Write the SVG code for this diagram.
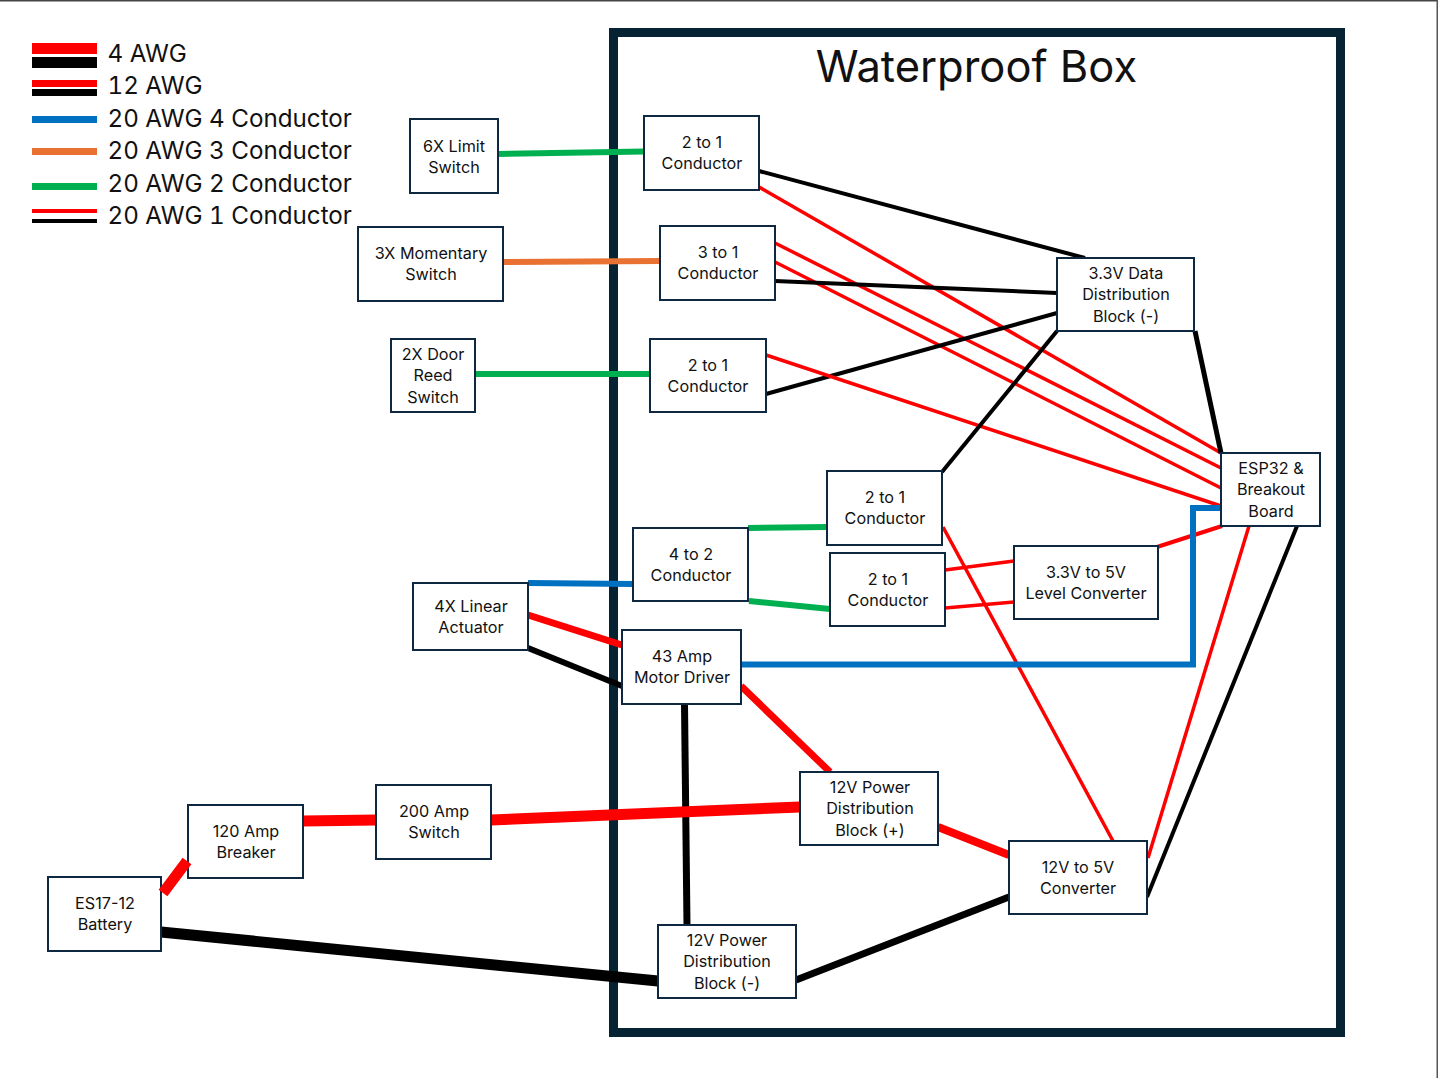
<svg xmlns="http://www.w3.org/2000/svg" width="1438" height="1078" viewBox="0 0 1438 1078">
<style>
text{font-family:"Inter","Liberation Sans",sans-serif;fill:#111}
.n rect{fill:#fff;stroke:#0e2841;stroke-width:2}
.n text{font-size:16.2px;text-anchor:middle}
.leg{font-size:24.2px;font-variant-numeric:tabular-nums}
.c line,.c polyline{fill:none;stroke-linecap:butt}
.r{stroke:#fe0000}.k{stroke:#000}.b{stroke:#0070c0}.g{stroke:#00b050}.o{stroke:#e97132}
.t3{stroke-width:3.5px}.t4{stroke-width:4px}.t5{stroke-width:5px}.t6{stroke-width:6px}.t7{stroke-width:7px}.t8{stroke-width:8px}.t11{stroke-width:11px}
</style>
<rect width="1438" height="1078" fill="#fff"/>
<rect x="0" y="0" width="1438" height="1.500" fill="#444"/>
<rect x="1436.500" y="0" width="1.500" height="1078" fill="#555"/>
<rect id="box" x="613.500" y="32.500" width="727" height="1000" fill="none" stroke="#062333" stroke-width="9"/>
<text id="box-title" x="976.500" y="81.500" font-size="43.500" text-anchor="middle">Waterproof Box</text>
<g id="legend">
<rect x="32" y="43" width="65" height="11" fill="#fe0000"/><rect x="32" y="57" width="65" height="11" fill="#000"/>
<rect x="32" y="80" width="65" height="7" fill="#fe0000"/><rect x="32" y="89" width="65" height="7" fill="#000"/>
<rect x="32" y="116" width="65" height="7" fill="#0070c0"/>
<rect x="32" y="148" width="65" height="7" fill="#e97132"/>
<rect x="32" y="183" width="65" height="7" fill="#00b050"/>
<rect x="32" y="209" width="65" height="4" fill="#fe0000"/><rect x="32" y="219" width="65" height="4" fill="#000"/>
<text class="leg" x="107.500" y="62">4 AWG</text>
<text class="leg" x="107.500" y="94">12 AWG</text>
<text class="leg" x="107.500" y="127">20 AWG 4 Conductor</text>
<text class="leg" x="107.500" y="159">20 AWG 3 Conductor</text>
<text class="leg" x="107.500" y="192">20 AWG 2 Conductor</text>
<text class="leg" x="107.500" y="224">20 AWG 1 Conductor</text>
</g>
<g id="connectors" class="c">
<line class="g t6" x1="498" y1="154" x2="644" y2="151.500"/>
<line class="o t6" x1="503" y1="262" x2="660" y2="261"/>
<line class="g t6" x1="475" y1="374" x2="650" y2="374"/>
<line class="k t4" x1="759" y1="171" x2="1085" y2="258"/>
<line class="r t3" x1="759" y1="187" x2="1221" y2="453"/>
<line class="r t3" x1="775" y1="243" x2="1221" y2="468"/>
<line class="r t3" x1="775" y1="262" x2="1221" y2="488"/>
<line class="k t4" x1="775" y1="281" x2="1057" y2="293"/>
<line class="k t4" x1="766" y1="394" x2="1057" y2="313"/>
<line class="r t3" x1="766" y1="355" x2="1221" y2="506"/>
<line class="k t4" x1="942" y1="472" x2="1057" y2="331"/>
<line class="k t5" x1="1195" y1="331" x2="1221" y2="453"/>
<line class="g t6" x1="748" y1="528" x2="827" y2="527"/>
<line class="g t6" x1="749" y1="601" x2="830" y2="609"/>
<line class="b t6" x1="528" y1="583" x2="633" y2="584"/>
<line class="r t7" x1="528" y1="615" x2="622" y2="645"/>
<line class="k t6" x1="528" y1="648" x2="622" y2="686"/>
<line class="r t3" x1="945" y1="570" x2="1014" y2="561"/>
<line class="r t3" x1="945" y1="608" x2="1014" y2="602"/>
<line class="r t4" x1="1157" y1="547" x2="1222" y2="526"/>
<line class="r t3" x1="943" y1="527" x2="1113" y2="841"/>
<line class="r t3" x1="1148" y1="858" x2="1249" y2="526"/>
<line class="k t4" x1="1147" y1="897" x2="1297" y2="526"/>
<polyline class="b t6" points="741,664.500 1193,664.500 1193,508 1221,508"/>
<line class="k t7" x1="684.500" y1="704" x2="687" y2="925"/>
<line class="r t7" x1="741" y1="686" x2="830" y2="772"/>
<line class="r t11" x1="491" y1="820" x2="800" y2="807"/>
<line class="r t11" x1="303" y1="821" x2="376" y2="820"/>
<line class="k t11" x1="161" y1="932" x2="658" y2="981"/>
<line class="r t8" x1="938" y1="827" x2="1009" y2="855"/>
<line class="k t7" x1="796" y1="980" x2="1009" y2="897"/>
</g>
<g id="n-limit" class="n"><rect x="410" y="119" width="88" height="74"/><text x="454" y="152">6X Limit</text><text x="454" y="173">Switch</text></g>
<g id="n-momentary" class="n"><rect x="358" y="227" width="145" height="74"/><text x="431" y="259">3X Momentary</text><text x="431" y="280">Switch</text></g>
<g id="n-door" class="n"><rect x="391" y="339" width="84" height="73"/><text x="433" y="360">2X Door</text><text x="433" y="381">Reed</text><text x="433" y="403">Switch</text></g>
<g id="n-2to1a" class="n"><rect x="644" y="116" width="115" height="74"/><text x="702" y="148">2 to 1</text><text x="702" y="169">Conductor</text></g>
<g id="n-3to1" class="n"><rect x="660" y="226" width="115" height="74"/><text x="718" y="258">3 to 1</text><text x="718" y="279">Conductor</text></g>
<g id="n-2to1b" class="n"><rect x="650" y="339" width="116" height="73"/><text x="708" y="371">2 to 1</text><text x="708" y="392">Conductor</text></g>
<g id="n-data" class="n"><rect x="1057" y="258" width="137" height="73"/><text x="1126" y="279">3.3V Data</text><text x="1126" y="300">Distribution</text><text x="1126" y="322">Block (-)</text></g>
<g id="n-esp" class="n"><rect x="1221" y="453" width="99" height="73"/><text x="1271" y="474">ESP32 &amp;</text><text x="1271" y="495">Breakout</text><text x="1271" y="517">Board</text></g>
<g id="n-2to1c" class="n"><rect x="827" y="471" width="115" height="74"/><text x="885" y="503">2 to 1</text><text x="885" y="524">Conductor</text></g>
<g id="n-2to1d" class="n"><rect x="830" y="553" width="115" height="73"/><text x="888" y="585">2 to 1</text><text x="888" y="606">Conductor</text></g>
<g id="n-4to2" class="n"><rect x="633" y="528" width="115" height="73"/><text x="691" y="560">4 to 2</text><text x="691" y="581">Conductor</text></g>
<g id="n-level" class="n"><rect x="1014" y="546" width="144" height="73"/><text x="1086" y="578">3.3V to 5V</text><text x="1086" y="599">Level Converter</text></g>
<g id="n-actuator" class="n"><rect x="413" y="583" width="115" height="67"/><text x="471" y="612">4X Linear</text><text x="471" y="633">Actuator</text></g>
<g id="n-driver" class="n"><rect x="622" y="630" width="119" height="74"/><text x="682" y="662">43 Amp</text><text x="682" y="683">Motor Driver</text></g>
<g id="n-p12" class="n"><rect x="800" y="772" width="138" height="73"/><text x="870" y="793">12V Power</text><text x="870" y="814">Distribution</text><text x="870" y="836">Block (+)</text></g>
<g id="n-200" class="n"><rect x="376" y="785" width="115" height="74"/><text x="434" y="817">200 Amp</text><text x="434" y="838">Switch</text></g>
<g id="n-120" class="n"><rect x="188" y="805" width="115" height="73"/><text x="246" y="837">120 Amp</text><text x="246" y="858">Breaker</text></g>
<g id="n-5v" class="n"><rect x="1009" y="841" width="138" height="73"/><text x="1078" y="873">12V to 5V</text><text x="1078" y="894">Converter</text></g>
<g id="n-battery" class="n"><rect x="48" y="877" width="113" height="74"/><text x="105" y="909">ES17-12</text><text x="105" y="930">Battery</text></g>
<g id="n-m12" class="n"><rect x="658" y="925" width="138" height="73"/><text x="727" y="946">12V Power</text><text x="727" y="967">Distribution</text><text x="727" y="989">Block (-)</text></g>
<g id="connector-top" class="c"><line class="r t11" x1="187" y1="861" x2="163" y2="893"/></g>
</svg>
